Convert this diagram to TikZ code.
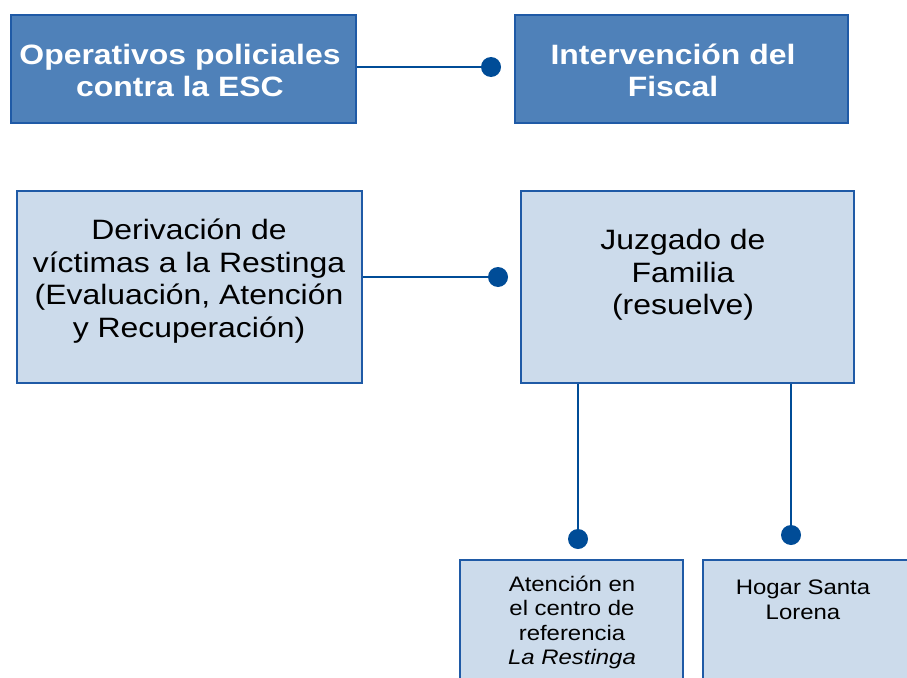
\documentclass[tikz,border=0pt]{standalone}
\usepackage{fontspec}
\setmainfont{Liberation Sans}[FakeStretch=1.14]
\definecolor{darkbox}{HTML}{4F81B9}
\definecolor{lightbox}{HTML}{CCDBEB}
\definecolor{edgeblue}{HTML}{1F5AA6}
\definecolor{dotblue}{HTML}{004C97}
\begin{document}
\begin{tikzpicture}[x=1pt,y=-1pt,
  boxbase/.style={draw=edgeblue,line width=1.8pt,anchor=north west,inner sep=0pt,rectangle},
  darkbx/.style={boxbase,fill=darkbox},
  lightbx/.style={boxbase,fill=lightbox},
  dot/.style={circle,fill=dotblue,inner sep=0pt,minimum size=20pt},
  conn/.style={draw=dotblue,line width=2.5pt},
  bigw/.style={text=white,font=\fontsize{28}{32}\selectfont\bfseries,align=center},
  bigk/.style={text=black,font=\fontsize{28}{32.5}\selectfont,align=center},
  smallk/.style={text=black,font=\fontsize{21}{24.5}\selectfont,align=center,anchor=north}]
\useasboundingbox (0,0) rectangle (907,677);
\clip (0,0) rectangle (907,677);
% boxes
\node[darkbx,minimum width=345pt,minimum height=108pt] (b1) at (10,14) {};
\node[darkbx,minimum width=333pt,minimum height=108pt] (b2) at (514,14) {};
\node[lightbx,minimum width=345pt,minimum height=192pt] (b3) at (16,190) {};
\node[lightbx,minimum width=333pt,minimum height=192pt] (b4) at (520,190) {};
\node[lightbx,minimum width=223pt,minimum height=140pt] (b5) at (459,559) {};
\node[lightbx,minimum width=230pt,minimum height=140pt] (b6) at (702,559) {};
% texts
\node[bigw] (t1) at (180,70) {Operativos policiales\\contra la ESC};
\node[bigw] (t2) at (673,70) {Intervención del\\Fiscal};
\node[bigk] (t3) at (189,281) {Derivación de\\víctimas a la Restinga\\(Evaluación, Atención\\y Recuperación)};
\node[bigk] (t4) at (683,275) {Juzgado de\\Familia\\(resuelve)};
\node[smallk] (t5) at (572,572) {Atención en\\el centro de\\referencia\\\textit{La Restinga}};
\node[smallk,font=\fontsize{21}{25.5}\selectfont] (t6) at (803,576) {Hogar Santa\\Lorena};
% dots
\node[dot] (d1) at (491,67) {};
\node[dot] (d2) at (498,277) {};
\node[dot] (d3) at (578,539) {};
\node[dot] (d4) at (791,535) {};
% connectors
\draw[conn] (b1.east |- d1) -- (d1);
\draw[conn] (b3.east |- d2) -- (d2);
\draw[conn] (d3 |- b4.south) -- (d3);
\draw[conn] (d4 |- b4.south) -- (d4);
\end{tikzpicture}
\end{document}
